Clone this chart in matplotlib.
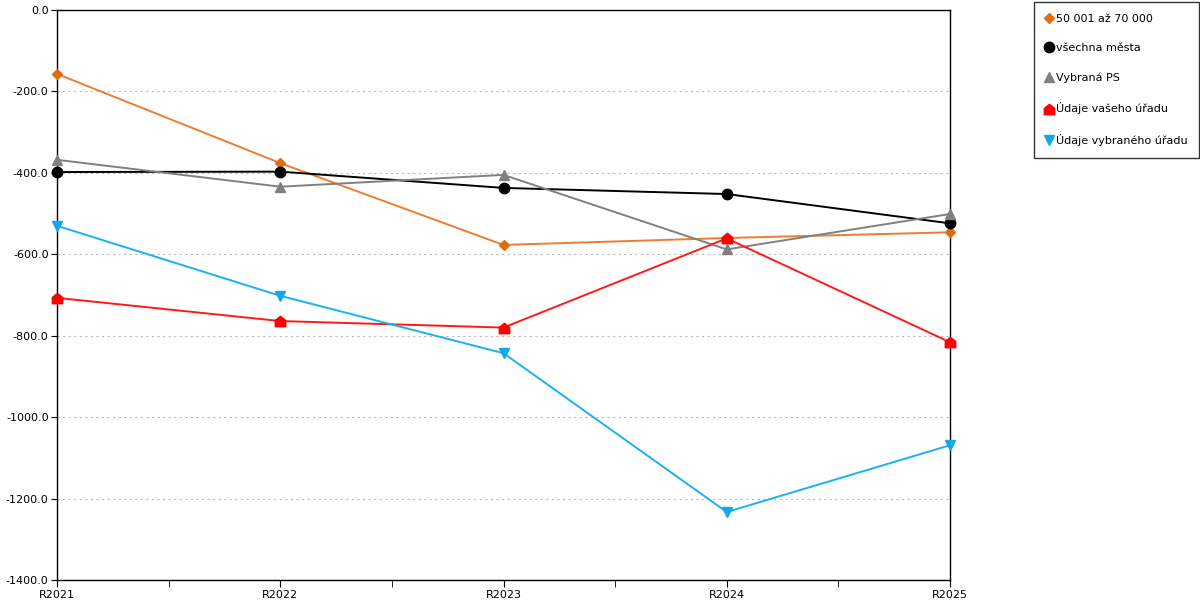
import matplotlib
matplotlib.use("Agg")
import matplotlib.pyplot as plt
from matplotlib.path import Path
from matplotlib.ticker import FixedLocator, FormatStrFormatter

plt.rcParams['font.family'] = ['DejaVu Sans']
plt.rcParams['axes.unicode_minus'] = False

years = ["R2021", "R2022", "R2023", "R2024", "R2025"]

mesta_50_70 = [-157, -376, -577, -560, -546]
vsechna_mesta = [-398, -397, -437, -452, -524]
vybrana_ps = [-368, -434, -405, -588, -501]
vas_urad = [-707, -764, -780, -561, -816]
vybrany_urad = [-530, -702, -843, -1233, -1069]

labels = ["50 001 až 70 000", "všechna města", "Vybraná PS",
          "Údaje vašeho úřadu", "Údaje vybraného úřadu"]

# house shaped marker
house = Path([(-1, -1), (1, -1), (1, 0.2), (0, 1), (-1, 0.2), (-1, -1)],
             [Path.MOVETO, Path.LINETO, Path.LINETO, Path.LINETO, Path.LINETO, Path.CLOSEPOLY])

series = [
    (mesta_50_70, "#ED7D31", "#E06C10", "D", 5.5),
    (vsechna_mesta, "#000000", "#000000", "o", 7.5),
    (vybrana_ps, "#808080", "#808080", "^", 7.5),
    (vas_urad, "#FF1A1A", "#FF0000", house, 7.5),
    (vybrany_urad, "#1AB2EE", "#10A8E8", "v", 7.5),
]

fig = plt.figure(figsize=(12, 6), dpi=100)
ax = fig.add_axes([57 / 1200, 20 / 600, 893 / 1200, 570 / 600])

x = list(range(len(years)))
handles = []
for (vals, lc, mc, mk, ms), lab in zip(series, labels):
    ax.plot(x, vals, color=lc, lw=1.4, zorder=3)
    h, = ax.plot(x, vals, linestyle="none", marker=mk, markersize=ms,
                 color=mc, clip_on=False, zorder=4, label=lab)
    handles.append(h)

ax.set_xlim(0, 4)
ax.set_ylim(-1400, 0)
ax.set_xticks(x)
ax.set_xticklabels(years, fontsize=8)
ax.xaxis.set_minor_locator(FixedLocator([0.5, 1.5, 2.5, 3.5]))
ax.tick_params(axis='x', which='both', length=5, direction='out', pad=2)
ax.set_yticks(range(-1400, 1, 200))
ax.yaxis.set_major_formatter(FormatStrFormatter('%.1f'))
ax.tick_params(axis='y', length=4, labelsize=8, pad=2)
ax.grid(axis='y', linestyle=(0, (2, 3)), color="#BBBBBB", lw=0.8)
ax.set_axisbelow(True)
for s in ax.spines.values():
    s.set_color("black")
    s.set_linewidth(1)

leg = fig.legend(handles=handles, loc='upper left', bbox_to_anchor=(1034 / 1200, 1 - 2 / 600),
                 fontsize=8, frameon=True, fancybox=False, edgecolor="black",
                 labelspacing=1.75, handlelength=0.6, handletextpad=0.3,
                 borderpad=1.05, borderaxespad=0)
leg.get_frame().set_linewidth(1)

fig.savefig("out.png", dpi=100)
